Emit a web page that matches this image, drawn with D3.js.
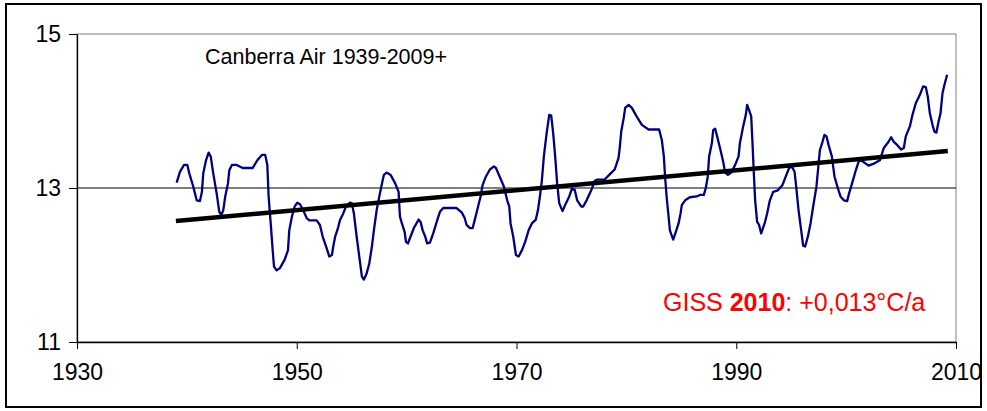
<!DOCTYPE html>
<html>
<head>
<meta charset="utf-8">
<script src="https://cdn.jsdelivr.net/npm/d3@7"></script>
<style>
html,body{margin:0;padding:0;background:#fff;}
svg{display:block;font-family:"Liberation Sans",Arial,sans-serif;}
</style>
</head>
<body>
<svg id="chart" width="987" height="411"></svg>
<script>
const years = [1939.07,1939.37,1939.74,1940.04,1940.22,1940.58,1940.89,1941.19,1941.37,1941.49,1941.74,1941.98,1942.17,1942.40,1942.71,1942.95,1943.13,1943.31,1943.49,1943.74,1943.86,1944.10,1944.53,1945.08,1945.99,1946.41,1946.83,1947.13,1947.32,1947.44,1947.63,1947.81,1947.93,1948.17,1948.47,1948.90,1949.20,1949.32,1949.56,1949.81,1950.05,1950.29,1950.59,1950.90,1951.14,1951.81,1952.11,1952.36,1952.72,1952.96,1953.20,1953.32,1953.50,1953.75,1953.93,1954.23,1954.48,1954.84,1955.02,1955.20,1955.45,1955.69,1955.93,1956.11,1956.36,1956.60,1956.84,1957.02,1957.27,1957.57,1957.82,1957.93,1958.18,1958.54,1958.96,1959.27,1959.39,1959.57,1959.82,1959.94,1960.12,1960.36,1960.66,1961.09,1961.27,1961.46,1961.69,1961.87,1962.12,1962.42,1962.78,1963.03,1963.33,1964.55,1965.03,1965.28,1965.46,1965.76,1966.01,1966.19,1966.42,1966.73,1966.92,1967.22,1967.58,1967.94,1968.13,1968.49,1968.85,1969.15,1969.34,1969.46,1969.70,1969.95,1970.19,1970.49,1970.79,1971.10,1971.40,1971.76,1971.95,1972.13,1972.31,1972.49,1972.74,1972.98,1973.16,1973.34,1973.52,1973.70,1973.89,1974.19,1974.49,1974.80,1975.04,1975.29,1975.52,1975.89,1976.07,1976.38,1976.80,1977.11,1977.34,1978.02,1978.44,1978.93,1979.29,1979.41,1979.53,1979.77,1979.89,1980.20,1980.50,1980.93,1981.41,1982.02,1982.98,1983.23,1983.41,1983.53,1983.66,1983.84,1983.96,1984.26,1984.50,1984.75,1984.93,1985.05,1985.35,1985.78,1986.39,1986.69,1987.05,1987.23,1987.41,1987.53,1987.78,1987.90,1988.08,1988.26,1988.57,1988.81,1988.99,1989.24,1989.54,1989.90,1990.21,1990.33,1990.63,1990.87,1990.99,1991.17,1991.36,1991.48,1991.60,1991.72,1991.90,1992.08,1992.27,1992.58,1992.81,1993.06,1993.36,1993.79,1994.21,1994.51,1994.81,1995.06,1995.31,1995.49,1995.67,1995.91,1996.09,1996.27,1996.52,1996.76,1997.00,1997.30,1997.61,1997.85,1998.03,1998.22,1998.40,1998.70,1998.94,1999.24,1999.49,1999.79,2000.09,2000.27,2000.58,2000.88,2001.13,2001.36,2002.04,2002.58,2003.07,2003.43,2003.86,2004.09,2004.34,2004.64,2005.00,2005.25,2005.43,2005.80,2006.04,2006.34,2006.71,2007.01,2007.25,2007.43,2007.62,2007.86,2008.04,2008.22,2008.41,2008.59,2008.77,2008.95,2009.19];
const temps = [13.07,13.21,13.30,13.30,13.19,13.02,12.84,12.83,12.95,13.19,13.36,13.46,13.41,13.19,12.93,12.69,12.65,12.71,12.89,13.06,13.23,13.30,13.30,13.26,13.26,13.36,13.43,13.43,13.30,12.89,12.54,12.19,11.98,11.93,11.96,12.07,12.19,12.45,12.63,12.76,12.81,12.79,12.71,12.61,12.58,12.58,12.52,12.37,12.22,12.11,12.13,12.24,12.37,12.48,12.58,12.67,12.76,12.81,12.80,12.67,12.37,12.11,11.85,11.81,11.89,12.02,12.24,12.45,12.71,12.93,13.10,13.17,13.20,13.17,13.06,12.95,12.63,12.54,12.43,12.30,12.28,12.37,12.48,12.59,12.56,12.45,12.37,12.28,12.29,12.41,12.58,12.69,12.74,12.74,12.68,12.61,12.52,12.48,12.48,12.58,12.71,12.89,13.04,13.15,13.24,13.28,13.26,13.14,13.02,12.84,12.76,12.54,12.37,12.13,12.11,12.19,12.30,12.45,12.54,12.59,12.71,12.89,13.10,13.41,13.71,13.95,13.94,13.71,13.41,13.06,12.80,12.70,12.80,12.89,12.99,12.98,12.84,12.76,12.76,12.84,12.97,13.09,13.11,13.11,13.17,13.24,13.39,13.54,13.73,13.92,14.04,14.08,14.04,13.93,13.82,13.76,13.76,13.62,13.41,13.13,12.89,12.63,12.45,12.33,12.43,12.54,12.67,12.78,12.84,12.88,12.89,12.91,12.91,13.00,13.15,13.41,13.58,13.75,13.77,13.67,13.49,13.34,13.20,13.17,13.20,13.30,13.41,13.58,13.80,13.95,14.08,14.01,13.93,13.58,13.19,12.84,12.56,12.52,12.41,12.54,12.67,12.84,12.95,12.97,13.04,13.15,13.26,13.28,13.21,12.97,12.71,12.45,12.25,12.24,12.37,12.54,12.76,13.02,13.49,13.60,13.69,13.67,13.56,13.41,13.15,13.00,12.89,12.84,12.83,12.93,13.08,13.23,13.34,13.36,13.29,13.32,13.36,13.52,13.60,13.66,13.60,13.56,13.50,13.52,13.67,13.80,13.95,14.10,14.21,14.32,14.31,14.19,13.97,13.82,13.73,13.72,13.86,13.97,14.23,14.34,14.47];
const trendYears = [1939.0, 2009.25];
const trendValues = [12.57, 13.48];
const xTicks = [1930, 1950, 1970, 1990, 2010];
const yTicks = [11, 13, 15];
const chartTitle = "Canberra Air 1939-2009+";

const svg = d3.select("#chart");
const L = 77, R = 956, T = 34, B = 342;
const x = d3.scaleLinear().domain([1930, 2010]).range([L, R]);
const y = d3.scaleLinear().domain([11, 15]).range([B, T]);

// outer border
svg.append("rect").attr("x", 6).attr("y", 4).attr("width", 975).attr("height", 403)
  .attr("fill", "#fff").attr("stroke", "#000").attr("stroke-width", 2);

// plot area border (grey)
svg.append("rect").attr("x", L).attr("y", T).attr("width", R - L).attr("height", B - T)
  .attr("fill", "none").attr("stroke", "#808080").attr("stroke-width", 1);

// gridline at 13
svg.append("g").selectAll("line").data(yTicks.filter(d => d !== 11 && d !== 15)).join("line")
  .attr("x1", L).attr("x2", R).attr("y1", d => y(d)).attr("y2", d => y(d))
  .attr("stroke", "#000").attr("stroke-width", 1);

// axes
const xAxis = svg.append("g").attr("transform", `translate(0,${B})`)
  .call(d3.axisBottom(x).tickValues(xTicks).tickFormat(d3.format("d")).tickSize(7).tickSizeOuter(0).tickPadding(15));
const yAxis = svg.append("g").attr("transform", `translate(${L},0)`)
  .call(d3.axisLeft(y).tickValues(yTicks).tickFormat(d3.format("d")).tickSize(8).tickSizeOuter(0).tickPadding(8));
[xAxis, yAxis].forEach(a => {
  a.select(".domain").attr("stroke", "#000").attr("stroke-width", 1.3);
  a.selectAll(".tick line").attr("stroke", "#000").attr("stroke-width", 1);
  a.selectAll("text").attr("font-family", "Liberation Sans, Arial, sans-serif")
    .attr("font-size", 23).attr("fill", "#000");
});

// data line
const line = d3.line().x(d => x(d[0])).y(d => y(d[1]));
svg.append("path").datum(years.map((yr, i) => [yr, temps[i]]))
  .attr("d", line).attr("fill", "none").attr("stroke", "#000080")
  .attr("stroke-width", 2.3).attr("stroke-linejoin", "round");

// trend line
svg.append("path").datum(trendYears.map((yr, i) => [yr, trendValues[i]]))
  .attr("d", line).attr("fill", "none").attr("stroke", "#000").attr("stroke-width", 4.5);

// title
svg.append("text").attr("x", 205).attr("y", 64).attr("font-size", 21.5).attr("fill", "#000")
  .text(chartTitle);

// GISS annotation
const g = svg.append("text").attr("x", 663).attr("y", 311).attr("font-size", 25).attr("fill", "#ff0000");
g.append("tspan").text("GISS ");
g.append("tspan").attr("font-weight", "bold").text("2010");
g.append("tspan").text(": +0,013°C/a");
</script>
</body>
</html>
